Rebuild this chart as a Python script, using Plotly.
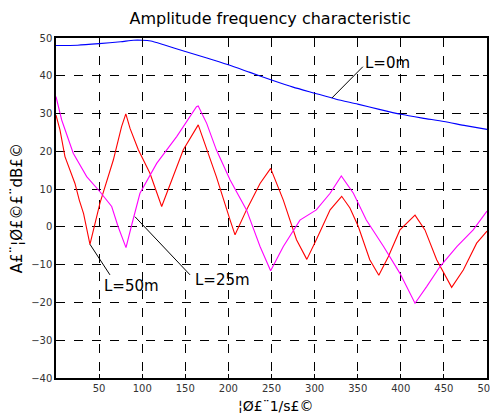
import plotly.graph_objects as go

# L = 0 m (blue)
x_0m = [0, 25, 50, 75, 90, 100, 110, 125, 150, 175, 200, 225, 250, 275, 300,
        325, 350, 375, 400, 425, 450, 475, 500]
y_0m = [48.0, 48.1, 48.5, 49.0, 49.4, 49.4, 49.2, 48.2, 46.4, 44.7, 42.9,
        40.9, 38.9, 37.0, 35.4, 33.8, 32.5, 31.1, 29.8, 28.8, 27.9, 26.8, 25.8]

# L = 50 m (red)
x_50m = [0, 4.6, 10.4, 22, 27, 32, 39.4, 51, 66.5, 76, 81, 86, 95.5, 109,
         122.6, 136, 147.7, 165, 186, 202, 207.7, 221, 236.7, 249, 263.7,
         279, 291, 302, 318, 331.4, 341, 350.7, 364, 374.5, 385.5, 399,
         416.5, 428, 441.6, 459, 472.5, 488, 500]
y_50m = [29.6, 25.7, 18.6, 11.5, 7.1, 3.5, -4.6, 6.3, 17.7, 26.5, 29.9, 26.0,
         20.4, 14.2, 5.4, 13.3, 20.4, 27.0, 13.3, 1.8, -2.1, 4.5, 11.5, 15.5,
         7.1, -3.4, -8.6, -3.4, 4.5, 8.1, 5.0, 0.1, -8.7, -12.8, -7.9, -0.8,
         3.1, -0.8, -8.7, -16.0, -11.4, -4.3, -1.1]

# L = 25 m (magenta)
x_25m = [0, 6.6, 20, 35.6, 51, 64.6, 72, 81.2, 87.8, 97.4, 116.8, 140, 163,
         165, 174.8, 186, 202, 221, 236.7, 249, 263.7, 283, 302, 318, 331,
         345, 360, 380, 399, 416.5, 430, 445.5, 465, 484, 500]
y_25m = [34.5, 28.3, 19.5, 13.3, 9.3, 5.4, 0.1, -5.5, 0.5, 8.9, 16.8, 23.9,
         31.8, 32.0, 27.4, 20.4, 12.4, 4.5, -5.2, -11.6, -5.2, 1.8, 4.5, 8.9,
         13.5, 8.9, 1.8, -5.2, -12.3, -20.2, -15.8, -10.5, -5.2, -0.8, 4.2]

# labels: text, leader line start (on curve), leader line end, text position
labels = ["L=0m", "L=50m", "L=25m"]
lead_x0 = [320, 39.4, 91.6]
lead_y0 = [34.1, -4.6, 2.7]
lead_x1 = [356, 62.6, 155.5]
lead_y1 = [42.4, -12.7, -12.7]
text_x = [356, 53, 159]
text_y = [43.4, -15.6, -14.0]

x_ticks = [50, 100, 150, 200, 250, 300, 350, 400, 450, 500]
y_ticks = [-40, -30, -20, -10, 0, 10, 20, 30, 40, 50]

font_name = 'DejaVu Sans'

fig = go.Figure()
fig.add_trace(go.Scatter(x=x_0m, y=y_0m, mode='lines', name='L=0m',
                         line=dict(color='#0000ff', width=1.1, shape='spline',
                                   smoothing=0.6)))
fig.add_trace(go.Scatter(x=x_50m, y=y_50m, mode='lines', name='L=50m',
                         line=dict(color='#ff0000', width=1.1)))
fig.add_trace(go.Scatter(x=x_25m, y=y_25m, mode='lines', name='L=25m',
                         line=dict(color='#ff00ff', width=1.1)))

for i in range(len(labels)):
    fig.add_shape(type='line', xref='x', yref='y',
                  x0=lead_x0[i], y0=lead_y0[i], x1=lead_x1[i], y1=lead_y1[i],
                  line=dict(color='black', width=1))
    fig.add_annotation(x=text_x[i], y=text_y[i], text=labels[i],
                       showarrow=False, xanchor='left', yanchor='middle',
                       font=dict(family=font_name, size=15, color='black'))

# axis titles
fig.add_annotation(xref='paper', yref='paper', x=0.51, y=-0.082,
                   text='¦Ø£¨1/s£©', showarrow=False,
                   xanchor='center', yanchor='middle',
                   font=dict(family=font_name, size=14, color='black'))
fig.add_annotation(xref='paper', yref='paper', x=-0.09, y=0.5,
                   text='A£¨¦Ø£©£¨dB£©', showarrow=False, textangle=-90,
                   xanchor='center', yanchor='middle',
                   font=dict(family=font_name, size=15, color='black'))

axis_common = dict(showline=True, linecolor='black', linewidth=1.5,
                   mirror='ticks', ticks='inside', ticklen=4,
                   tickcolor='black', showgrid=True, gridcolor='black',
                   gridwidth=1, griddash='dash', zeroline=False,
                   automargin=False,
                   tickfont=dict(family=font_name, size=10, color='#333333'))

fig.update_xaxes(range=[0, 500], tickvals=x_ticks, **axis_common)
fig.update_yaxes(range=[-40, 50], tickvals=y_ticks, **axis_common)

# the page adds an 8px body margin, so the figure is 8px smaller
fig.update_layout(width=490, height=407,
                  title=dict(text='Amplitude frequency characteristic',
                             x=0.535, xanchor='center', y=0.975,
                             yanchor='middle',
                             font=dict(family=font_name, size=16,
                                       color='black')),
                  showlegend=False,
                  plot_bgcolor='white', paper_bgcolor='white',
                  margin=dict(l=48, r=11, t=30, b=37))

fig.write_html("out.html")
